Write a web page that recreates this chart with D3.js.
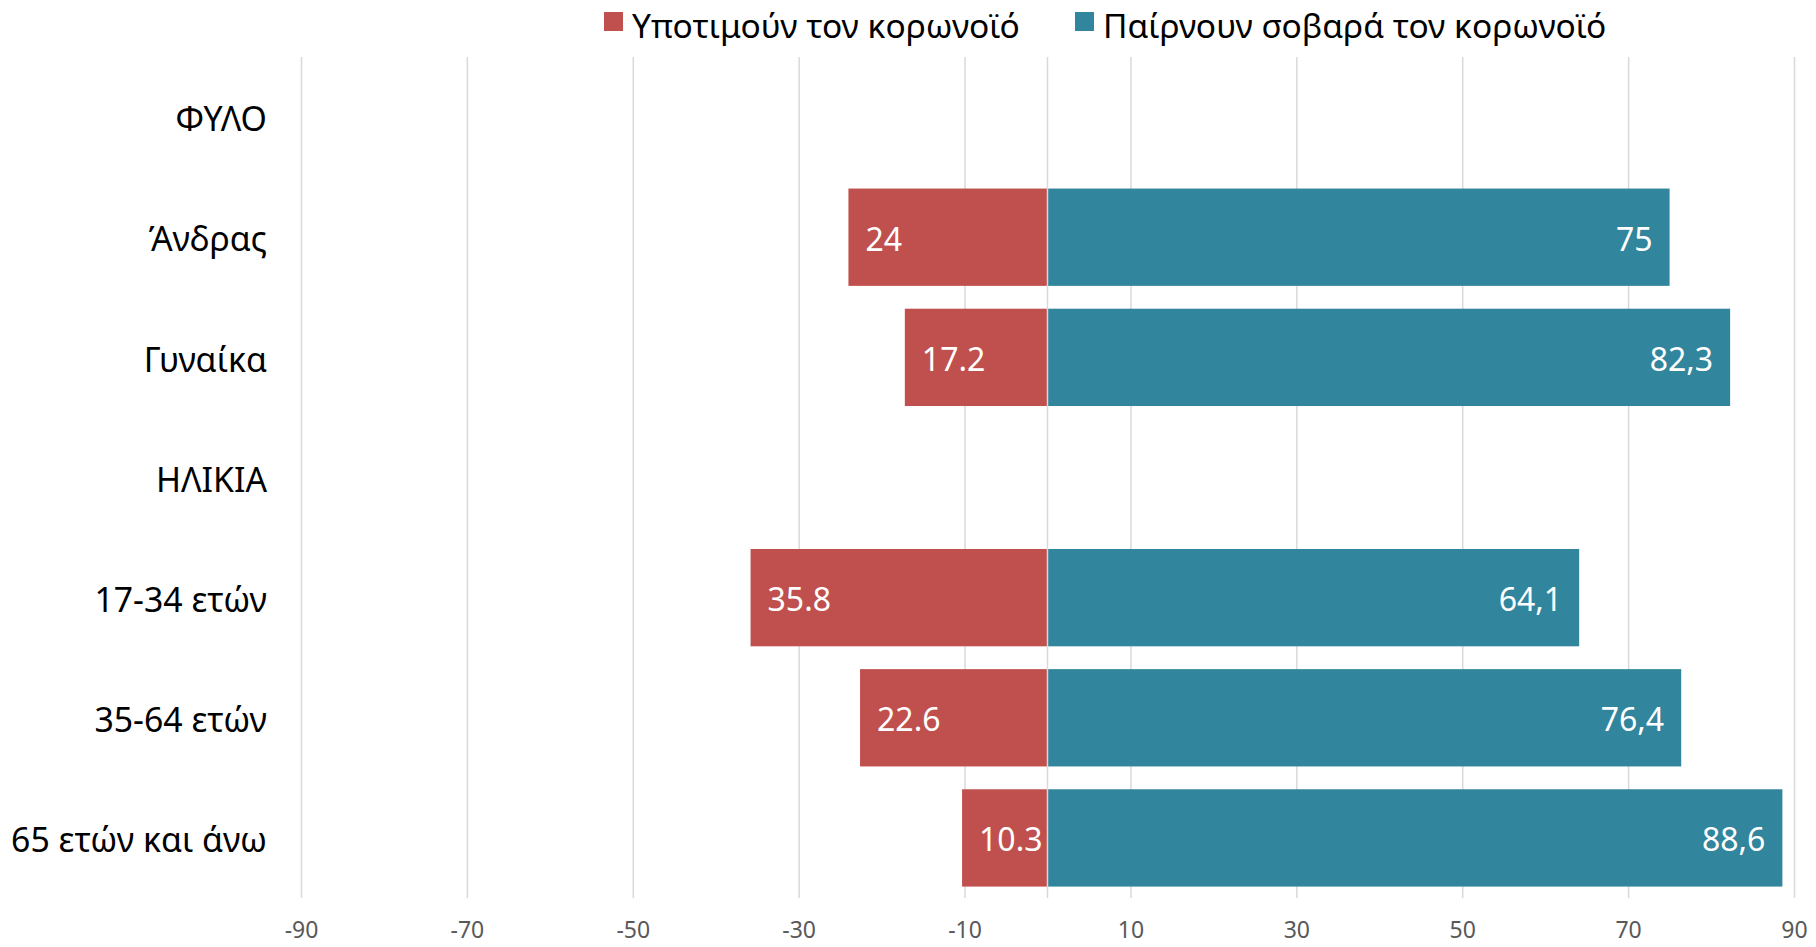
<!DOCTYPE html>
<html>
<head>
<meta charset="utf-8">
<script src="https://cdn.jsdelivr.net/npm/d3@7"></script>
<style>
  body { margin: 0; background: #fff; }
  svg text { font-family: "Noto Sans", "Open Sans", sans-serif; }
</style>
</head>
<body>
<svg id="chart" width="1816" height="947"></svg>
<script>
var categories = ["ΦΥΛΟ", "Άνδρας", "Γυναίκα", "ΗΛΙΚΙΑ", "17-34 ετών", "35-64 ετών", "65 ετών και άνω"];
var underValues = [null, 24, 17.2, null, 35.8, 22.6, 10.3];
var seriousValues = [null, 75, 82.3, null, 64.1, 76.4, 88.6];
var underLabels = ["", "24", "17.2", "", "35.8", "22.6", "10.3"];
var seriousLabels = ["", "75", "82,3", "", "64,1", "76,4", "88,6"];
var tickValues = [-90, -70, -50, -30, -10, 10, 30, 50, 70, 90];
var seriesNames = ["Υποτιμούν τον κορωνοϊό", "Παίρνουν σοβαρά τον κορωνοϊό"];
var seriesColors = ["#c0504d", "#31859c"];

var svg = d3.select("#chart");
var plotLeft = 301, plotRight = 1794, plotTop = 57, plotBottom = 898;

var x = d3.scaleLinear().domain([-90, 90]).range([plotLeft, plotRight]);
var y = d3.scaleBand().domain(categories).range([plotTop, plotBottom])
    .paddingInner(0.19).paddingOuter(0.095);

// gridlines
svg.append("g")
  .attr("transform", "translate(0," + plotBottom + ")")
  .call(d3.axisBottom(x).tickValues(tickValues).tickSize(plotTop - plotBottom).tickFormat(""))
  .call(function(g) {
    g.select(".domain").remove();
    g.selectAll("line").attr("stroke", "#d9d9d9").attr("stroke-width", 1.5);
  });

// tick labels (plain hyphen like the original)
svg.append("g")
  .attr("transform", "translate(0," + plotBottom + ")")
  .call(d3.axisBottom(x).tickValues(tickValues).tickSize(0).tickPadding(24)
        .tickFormat(function(d) { return String(d); }))
  .call(function(g) {
    g.select(".domain").remove();
    g.selectAll("text").attr("fill", "#595959").style("font-size", "23px")
      .style("font-family", "'Noto Sans', sans-serif");
  });

var rows = categories.map(function(c, i) {
  return {cat: c, under: underValues[i], serious: seriousValues[i],
          uLabel: underLabels[i], sLabel: seriousLabels[i]};
}).filter(function(d) { return d.under != null; });

// bars
svg.append("g").selectAll("rect").data(rows).join("rect")
  .attr("x", function(d) { return x(-d.under); })
  .attr("y", function(d) { return y(d.cat); })
  .attr("width", function(d) { return x(0) - x(-d.under); })
  .attr("height", y.bandwidth())
  .attr("fill", seriesColors[0]);

svg.append("g").selectAll("rect").data(rows).join("rect")
  .attr("x", x(0))
  .attr("y", function(d) { return y(d.cat); })
  .attr("width", function(d) { return x(d.serious) - x(0); })
  .attr("height", y.bandwidth())
  .attr("fill", seriesColors[1]);

// zero line
svg.append("line")
  .attr("x1", x(0)).attr("x2", x(0))
  .attr("y1", plotTop).attr("y2", plotBottom)
  .attr("stroke", "#d9d9d9").attr("stroke-width", 1.5);

// data labels
svg.append("g").selectAll("text").data(rows).join("text")
  .attr("x", function(d) { return x(-d.under) + 17; })
  .attr("y", function(d) { return y(d.cat) + y.bandwidth() / 2; })
  .attr("dy", "0.42em")
  .attr("fill", "#fff")
  .style("font-size", "32px")
  .text(function(d) { return d.uLabel; });

svg.append("g").selectAll("text").data(rows).join("text")
  .attr("x", function(d) { return x(d.serious) - 17; })
  .attr("y", function(d) { return y(d.cat) + y.bandwidth() / 2; })
  .attr("dy", "0.42em")
  .attr("text-anchor", "end")
  .attr("fill", "#fff")
  .style("font-size", "32px")
  .text(function(d) { return d.sLabel; });

// category labels
svg.append("g")
  .attr("transform", "translate(" + plotLeft + ",0)")
  .call(d3.axisLeft(y).tickSize(0).tickPadding(34))
  .call(function(g) {
    g.select(".domain").remove();
    g.selectAll("text").attr("fill", "#000").attr("dy", "0.42em")
      .style("font-size", "33.8px")
      .style("font-family", "'Noto Sans', sans-serif");
  });

// legend
var legendX = [604, 1075];
var legend = svg.append("g").selectAll("g").data(seriesNames).join("g")
  .attr("transform", function(d, i) { return "translate(" + legendX[i] + ",12)"; });
legend.append("rect").attr("width", 19).attr("height", 19)
  .attr("fill", function(d, i) { return seriesColors[i]; });
legend.append("text").attr("x", 28).attr("y", 13).attr("dy", "0.38em")
  .attr("fill", "#000").style("font-size", "33.5px")
  .text(function(d) { return d; });
</script>
</body>
</html>
